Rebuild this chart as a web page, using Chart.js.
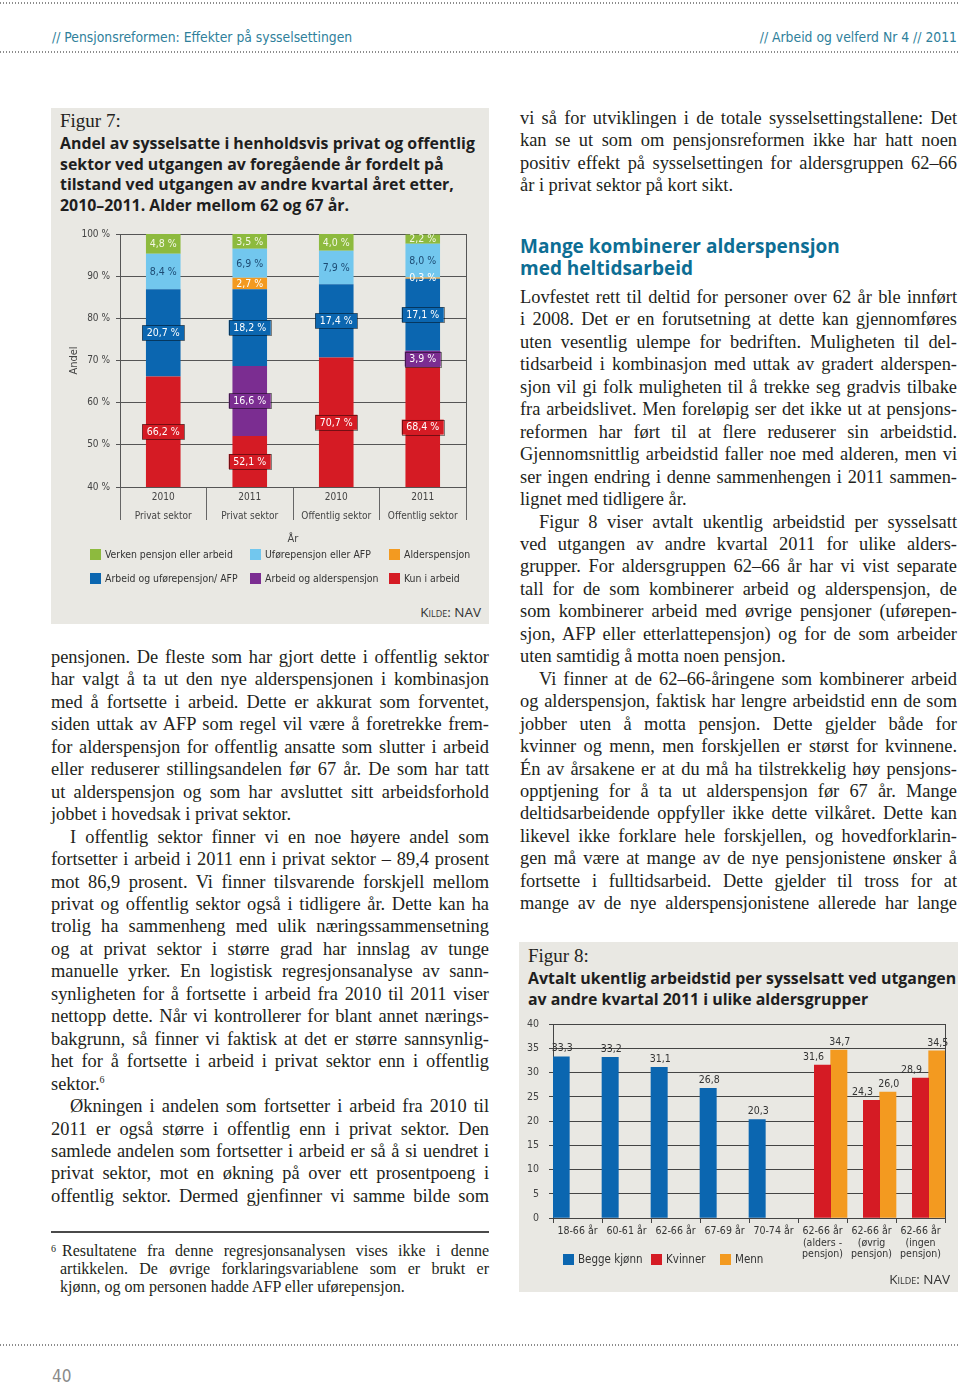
<!DOCTYPE html>
<html>
<head>
<meta charset="utf-8">
<script src="https://cdn.jsdelivr.net/npm/chart.js@4.4.1/dist/chart.umd.min.js"></script>
<style>
body { margin: 0; background: #fff; }
#page { position: relative; width: 960px; height: 1385px; overflow: hidden; font-family: "Liberation Serif", "Times New Roman", serif; color: #231f20; }
.dots { position: absolute; left: 0; width: 960px; height: 2px; background: repeating-linear-gradient(90deg, #8c8c8c 0 1px, transparent 1px 3px); }
.hdr { position: absolute; top: 29px; font-family: "Liberation Sans Narrow", "DejaVu Sans Condensed", sans-serif; font-size: 13.8px; color: #2f7f9b; }
.col { position: absolute; font-size: 18.4px; line-height: 22.45px; white-space: nowrap; }
.j { text-align: justify; text-align-last: justify; }
.i { text-indent: 19px; }
.sup { font-size: 10px; position: relative; top: -7px; line-height: 0; }
.box { position: absolute; background: #e9e8e3; }
.fig { position: absolute; font-size: 19px; }
.ftitle { position: absolute; font-family: "Open Sans", sans-serif; font-weight: bold; font-size: 15.9px; line-height: 20.7px; color: #1e1e1e; white-space: nowrap; }
.kilde { position: absolute; font-family: "Open Sans", sans-serif; font-size: 13.5px; color: #333; font-variant: small-caps; }
.leg { position: absolute; font-family: "Liberation Sans Narrow", "DejaVu Sans Condensed", sans-serif; font-size: 10.4px; color: #333; white-space: nowrap; }
.leg i { display: inline-block; width: 11px; height: 11px; vertical-align: -2px; margin-right: 4px; }
.h2 { position: absolute; font-family: "Open Sans", sans-serif; font-weight: bold; font-size: 19px; line-height: 22px; color: #0d6e94; white-space: nowrap; }
canvas { position: absolute; }
</style>
</head>
<body>
<div id="page">
  <div class="dots" style="top:2px"></div>
  <div class="hdr" style="left:52px">// Pensjonsreformen: Effekter på sysselsettingen</div>
  <div class="hdr" style="right:3px">// Arbeid og velferd Nr 4 // 2011</div>
  <div class="dots" style="top:51px"></div>

  <!-- Figur 7 -->
  <div class="box" style="left:51px;top:108px;width:438px;height:516px"></div>
  <div class="fig" style="left:60px;top:110px">Figur 7:</div>
  <div class="ftitle" style="left:60px;top:133px">Andel av sysselsatte i henholdsvis privat og offentlig<br>sektor ved utgangen av foregående år fordelt på<br>tilstand ved utgangen av andre kvartal året etter,<br>2010–2011. Alder mellom 62 og 67 år.</div>
  <canvas id="fig7" width="438" height="330" style="left:51px;top:222px"></canvas>
  <div class="leg" style="left:90px;top:548px"><i style="background:#8dba3e"></i>Verken pensjon eller arbeid</div>
  <div class="leg" style="left:250px;top:548px"><i style="background:#72c7ee"></i>Uførepensjon  eller AFP</div>
  <div class="leg" style="left:389px;top:548px"><i style="background:#f39a20"></i>Alderspensjon</div>
  <div class="leg" style="left:90px;top:572px"><i style="background:#0b66b0"></i>Arbeid og uførepensjon/ AFP</div>
  <div class="leg" style="left:250px;top:572px"><i style="background:#7b2d91"></i>Arbeid og alderspensjon</div>
  <div class="leg" style="left:389px;top:572px"><i style="background:#d51b24"></i>Kun i arbeid</div>
  <div class="kilde" style="right:479px;top:603px">Kilde: NAV</div>

  <!-- Venstre spalte -->
  <div class="col" style="left:51px;top:646px;width:438px">
    <div class="j">pensjonen. De fleste som har gjort dette i offentlig sektor</div>
    <div class="j">har valgt å ta ut den nye alderspensjonen i kombinasjon</div>
    <div class="j">med å fortsette i arbeid. Dette er akkurat som forventet,</div>
    <div class="j">siden uttak av AFP som regel vil være å foretrekke frem-</div>
    <div class="j">for alderspensjon for offentlig ansatte som slutter i arbeid</div>
    <div class="j">eller reduserer stillingsandelen før 67 år. De som har tatt</div>
    <div class="j">ut alderspensjon og som har avsluttet sitt arbeidsforhold</div>
    <div>jobbet i hovedsak i privat sektor.</div>
    <div class="j i">I offentlig sektor finner vi en noe høyere andel som</div>
    <div class="j">fortsetter i arbeid i 2011 enn i privat sektor – 89,4 prosent</div>
    <div class="j">mot 86,9 prosent. Vi finner tilsvarende forskjell mellom</div>
    <div class="j">privat og offentlig sektor også i tidligere år. Dette kan ha</div>
    <div class="j">trolig ha sammenheng med ulik næringssammensetning</div>
    <div class="j">og at privat sektor i større grad har innslag av tunge</div>
    <div class="j">manuelle yrker. En logistisk regresjonsanalyse av sann-</div>
    <div class="j">synligheten for å fortsette i arbeid fra 2010 til 2011 viser</div>
    <div class="j">nettopp dette. Når vi kontrollerer for blant annet nærings-</div>
    <div class="j">bakgrunn, så finner vi faktisk at det er større sannsynlig-</div>
    <div class="j">het for å fortsette i arbeid i privat sektor enn i offentlig</div>
    <div>sektor.<span class="sup">6</span></div>
    <div class="j i">Økningen i andelen som fortsetter i arbeid fra 2010 til</div>
    <div class="j">2011 er også større i offentlig enn i privat sektor. Den</div>
    <div class="j">samlede andelen som fortsetter i arbeid er så å si uendret i</div>
    <div class="j">privat sektor, mot en økning på over ett prosentpoeng i</div>
    <div class="j">offentlig sektor. Dermed gjenfinner vi samme bilde som</div>
  </div>

  <div style="position:absolute;left:51px;top:1231px;width:438px;height:1.5px;background:#4a4a4a"></div>
  <div style="position:absolute;left:51px;top:1243px;font-size:10px">6</div>
  <div class="col" style="left:60px;top:1242px;width:429px;font-size:16px;line-height:18px">
    <div class="j" style="padding-left:2px">Resultatene fra denne regresjonsanalysen vises ikke i denne</div>
    <div class="j">artikkelen. De øvrige forklaringsvariablene som er brukt er</div>
    <div>kjønn, og om personen hadde AFP eller uførepensjon.</div>
  </div>

  <!-- Høyre spalte -->
  <div class="col" style="left:520px;top:107px;width:437px">
    <div class="j">vi så for utviklingen i de totale sysselsettingstallene: Det</div>
    <div class="j">kan se ut som om pensjonsreformen ikke har hatt noen</div>
    <div class="j">positiv effekt på sysselsettingen for aldersgruppen 62–66</div>
    <div>år i privat sektor på kort sikt.</div>
  </div>
  <div class="h2" style="left:520px;top:235px">Mange kombinerer alderspensjon</div>
  <div class="h2" style="left:520px;top:257px">med heltidsarbeid</div>
  <div class="col" style="left:520px;top:286px;width:437px">
    <div class="j">Lovfestet rett til deltid for personer over 62 år ble innført</div>
    <div class="j">i 2008. Det er en forutsetning at dette kan gjennomføres</div>
    <div class="j">uten vesentlig ulempe for bedriften. Muligheten til del-</div>
    <div class="j">tidsarbeid i kombinasjon med uttak av gradert alderspen-</div>
    <div class="j">sjon vil gi folk muligheten til å trekke seg gradvis tilbake</div>
    <div class="j">fra arbeidslivet. Men foreløpig ser det ikke ut at pensjons-</div>
    <div class="j">reformen har ført til at flere reduserer sin arbeidstid.</div>
    <div class="j">Gjennomsnittlig arbeidstid faller noe med alderen, men vi</div>
    <div class="j">ser ingen endring i denne sammenhengen i 2011 sammen-</div>
    <div>lignet med tidligere år.</div>
    <div class="j i">Figur 8 viser avtalt ukentlig arbeidstid per sysselsatt</div>
    <div class="j">ved utgangen av andre kvartal 2011 for ulike alders-</div>
    <div class="j">grupper. For aldersgruppen 62–66 år har vi vist separate</div>
    <div class="j">tall for de som kombinerer arbeid og alderspensjon, de</div>
    <div class="j">som kombinerer arbeid med øvrige pensjoner (uførepen-</div>
    <div class="j">sjon, AFP eller etterlattepensjon) og for de som arbeider</div>
    <div>uten samtidig å motta noen pensjon.</div>
    <div class="j i">Vi finner at de 62–66-åringene som kombinerer arbeid</div>
    <div class="j">og alderspensjon, faktisk har lengre arbeidstid enn de som</div>
    <div class="j">jobber uten å motta pensjon. Dette gjelder både for</div>
    <div class="j">kvinner og menn, men forskjellen er størst for kvinnene.</div>
    <div class="j">Én av årsakene er at du må ha tilstrekkelig høy pensjons-</div>
    <div class="j">opptjening for å ta ut alderspensjon før 67 år. Mange</div>
    <div class="j">deltidsarbeidende oppfyller ikke dette vilkåret. Dette kan</div>
    <div class="j">likevel ikke forklare hele forskjellen, og hovedforklarin-</div>
    <div class="j">gen må være at mange av de nye pensjonistene ønsker å</div>
    <div class="j">fortsette i fulltidsarbeid. Dette gjelder til tross for at</div>
    <div class="j">mange av de nye alderspensjonistene allerede har lange</div>
  </div>

  <!-- Figur 8 -->
  <div class="box" style="left:519px;top:942px;width:439px;height:350px"></div>
  <div class="fig" style="left:528px;top:945px">Figur 8:</div>
  <div class="ftitle" style="left:528px;top:968px">Avtalt ukentlig arbeidstid per sysselsatt ved utgangen<br>av andre kvartal 2011 i ulike aldersgrupper</div>
  <canvas id="fig8" width="439" height="255" style="left:519px;top:1008px"></canvas>
  <div class="leg" style="left:563px;top:1252px;font-size:11.5px"><i style="background:#0b66b0"></i>Begge kjønn</div>
  <div class="leg" style="left:651px;top:1252px;font-size:11.5px"><i style="background:#d51b24"></i>Kvinner</div>
  <div class="leg" style="left:720px;top:1252px;font-size:11.5px"><i style="background:#f39a20"></i>Menn</div>
  <div class="kilde" style="right:10px;top:1270px">Kilde: NAV</div>

  <div class="dots" style="top:1344px"></div>
  <div style="position:absolute;left:52px;top:1368px;line-height:17px;font-family:'Liberation Sans Narrow','DejaVu Sans Condensed',sans-serif;font-size:17px;color:#8a8a8a">40</div>
</div>

<script>
const NARROW = '"Liberation Sans Narrow", "DejaVu Sans Condensed", sans-serif';

// Figur 7
const fig7Labels = [['2010', 'Privat sektor'], ['2011', 'Privat sektor'], ['2010', 'Offentlig sektor'], ['2011', 'Offentlig sektor']];
const kunIArbeid = [66.2, 52.1, 70.7, 68.4];
const arbeidAlders = [null, 16.6, null, 3.9];
const arbeidUfore = [20.7, 18.2, 17.4, 17.1];
const alderspensjon = [null, 2.7, null, 0.3];
const uforeAfp = [8.4, 6.9, 7.9, 8.0];
const verken = [4.8, 3.5, 4.0, 2.2];
const fig7Ticks = [40, 50, 60, 70, 80, 90, 100];

// Figur 8
const fig8Labels = ['18-66 år', '60-61 år', '62-66 år', '67-69 år', '70-74 år',
  ['62-66 år', '(alders -', 'pensjon)'], ['62-66 år', '(øvrig', 'pensjon)'], ['62-66 år', '(ingen', 'pensjon)']];
const beggeKjonn = [33.3, 33.2, 31.1, 26.8, 20.3, null, null, null];
const kvinner = [null, null, null, null, null, 31.6, 24.3, 28.9];
const menn = [null, null, null, null, null, 34.7, 26.0, 34.5];

const fmt = v => v.toFixed(1).replace('.', ',');

// segment labels, drawn at the middle of the visible part of each bar
const segmentLabels = {
  id: 'segmentLabels',
  afterDatasetsDraw(chart) {
    const ctx = chart.ctx;
    const area = chart.chartArea;
    ctx.save();
    ctx.font = '10.5px ' + NARROW;
    ctx.textAlign = 'center';
    ctx.textBaseline = 'middle';
    chart.data.datasets.forEach((ds, di) => {
      chart.getDatasetMeta(di).data.forEach((el, i) => {
        const v = ds.data[i];
        if (v == null) return;
        const top = Math.max(Math.min(el.y, el.base), area.top);
        const bot = Math.min(Math.max(el.y, el.base), area.bottom);
        const y = (top + bot) / 2;
        const txt = fmt(v) + ' %';
        if (ds.labelBox) {
          const w = ctx.measureText(txt).width + 9;
          ctx.fillStyle = ds.backgroundColor;
          ctx.fillRect(el.x - w / 2, y - 7.5, w, 15);
          ctx.strokeStyle = 'rgba(0,0,0,0.45)';
          ctx.lineWidth = 1;
          ctx.strokeRect(Math.round(el.x - w / 2) + 0.5, Math.round(y - 7.5) + 0.5, Math.round(w), 15);
        }
        ctx.fillStyle = ds.labelColor;
        ctx.fillText(txt, el.x, y + 0.5);
      });
    });
    ctx.restore();
  }
};

new Chart(document.getElementById('fig7'), {
  type: 'bar',
  data: {
    labels: fig7Labels,
    datasets: [
      { label: 'Kun i arbeid', data: kunIArbeid, backgroundColor: '#d51b24', labelBox: true, labelColor: '#fff' },
      { label: 'Arbeid og alderspensjon', data: arbeidAlders, backgroundColor: '#7b2d91', labelBox: true, labelColor: '#fff' },
      { label: 'Arbeid og uførepensjon/ AFP', data: arbeidUfore, backgroundColor: '#0b66b0', labelBox: true, labelColor: '#fff' },
      { label: 'Alderspensjon', data: alderspensjon, backgroundColor: '#f39a20', labelColor: '#fff' },
      { label: 'Uførepensjon eller AFP', data: uforeAfp, backgroundColor: '#72c7ee', labelColor: '#1d4b74' },
      { label: 'Verken pensjon eller arbeid', data: verken, backgroundColor: '#8dba3e', labelColor: '#f3f7e6' }
    ]
  },
  options: {
    responsive: false,
    animation: false,
    categoryPercentage: 1,
    barPercentage: 0.4,
    layout: { padding: { top: 10, right: 23, left: 0, bottom: 0 } },
    plugins: { legend: { display: false }, tooltip: { enabled: false } },
    scales: {
      x: {
        stacked: true,
        grid: { offset: true, drawOnChartArea: false, tickLength: 33, color: '#666' },
        border: { color: '#555' },
        ticks: { padding: -32, color: '#444', font: { family: NARROW, size: 10, lineHeight: 1.9 } },
        title: { display: true, text: 'År', color: '#444', font: { family: NARROW, size: 11 }, padding: { top: 0, bottom: 6 } },
        afterFit: s => { s.height = 65; }
      },
      y: {
        stacked: true,
        min: 40, max: 100,
        afterBuildTicks: s => { s.ticks = fig7Ticks.map(v => ({ value: v })); },
        grid: { color: '#555', tickLength: 4 },
        border: { color: '#555' },
        ticks: { padding: 6, color: '#444', font: { family: NARROW, size: 10 }, callback: v => v + ' %' },
        title: { display: true, text: 'Andel', color: '#444', font: { family: NARROW, size: 11 }, padding: { top: 17, bottom: 0 } },
        afterFit: s => { s.width = 69; }
      },
      y2: {
        position: 'right',
        min: 40, max: 100,
        ticks: { display: false },
        grid: { display: false },
        border: { display: true, color: '#555' },
        afterFit: s => { s.width = 0; }
      }
    }
  },
  plugins: [segmentLabels]
});

// value labels above bars
const valueLabels = {
  id: 'valueLabels',
  afterDatasetsDraw(chart) {
    const ctx = chart.ctx;
    ctx.save();
    ctx.font = '10.5px ' + NARROW;
    ctx.fillStyle = '#333';
    ctx.textAlign = 'center';
    ctx.textBaseline = 'middle';
    chart.data.datasets.forEach((ds, di) => {
      chart.getDatasetMeta(di).data.forEach((el, i) => {
        const v = ds.data[i];
        if (v == null) return;
        ctx.fillText(fmt(v), el.x + (ds.labelDx || 0), el.y - 8);
      });
    });
    ctx.restore();
  }
};

new Chart(document.getElementById('fig8'), {
  type: 'bar',
  data: {
    labels: fig8Labels,
    datasets: [
      { label: 'Begge kjønn', data: beggeKjonn, backgroundColor: '#0b66b0', labelDx: 1 },
      { label: 'Kvinner', data: kvinner, backgroundColor: '#d51b24', labelDx: -9 },
      { label: 'Menn', data: menn, backgroundColor: '#f39a20', labelDx: 1 }
    ]
  },
  options: {
    responsive: false,
    animation: false,
    categoryPercentage: 1,
    barPercentage: 1,
    layout: { padding: { top: 12, right: 13, left: 0, bottom: 0 } },
    plugins: { legend: { display: false }, tooltip: { enabled: false } },
    scales: {
      x: {
        grid: { offset: true, drawOnChartArea: false, tickLength: 5, color: '#444' },
        border: { color: '#444' },
        ticks: { padding: 3, color: '#333', font: { family: NARROW, size: 10.5, lineHeight: 1.08 } },
        afterFit: s => { s.height = 45; }
      },
      y: {
        min: 0, max: 40,
        ticks: { stepSize: 5, padding: 10, color: '#444', font: { family: NARROW, size: 10.5 } },
        grid: { color: '#444', tickLength: 4 },
        border: { color: '#444' },
        afterFit: s => { s.width = 34; }
      },
      y2: {
        position: 'right',
        min: 0, max: 40,
        ticks: { display: false },
        grid: { display: false },
        border: { display: true, color: '#444' },
        afterFit: s => { s.width = 0; }
      }
    }
  },
  plugins: [valueLabels]
});
</script>
</body>
</html>
